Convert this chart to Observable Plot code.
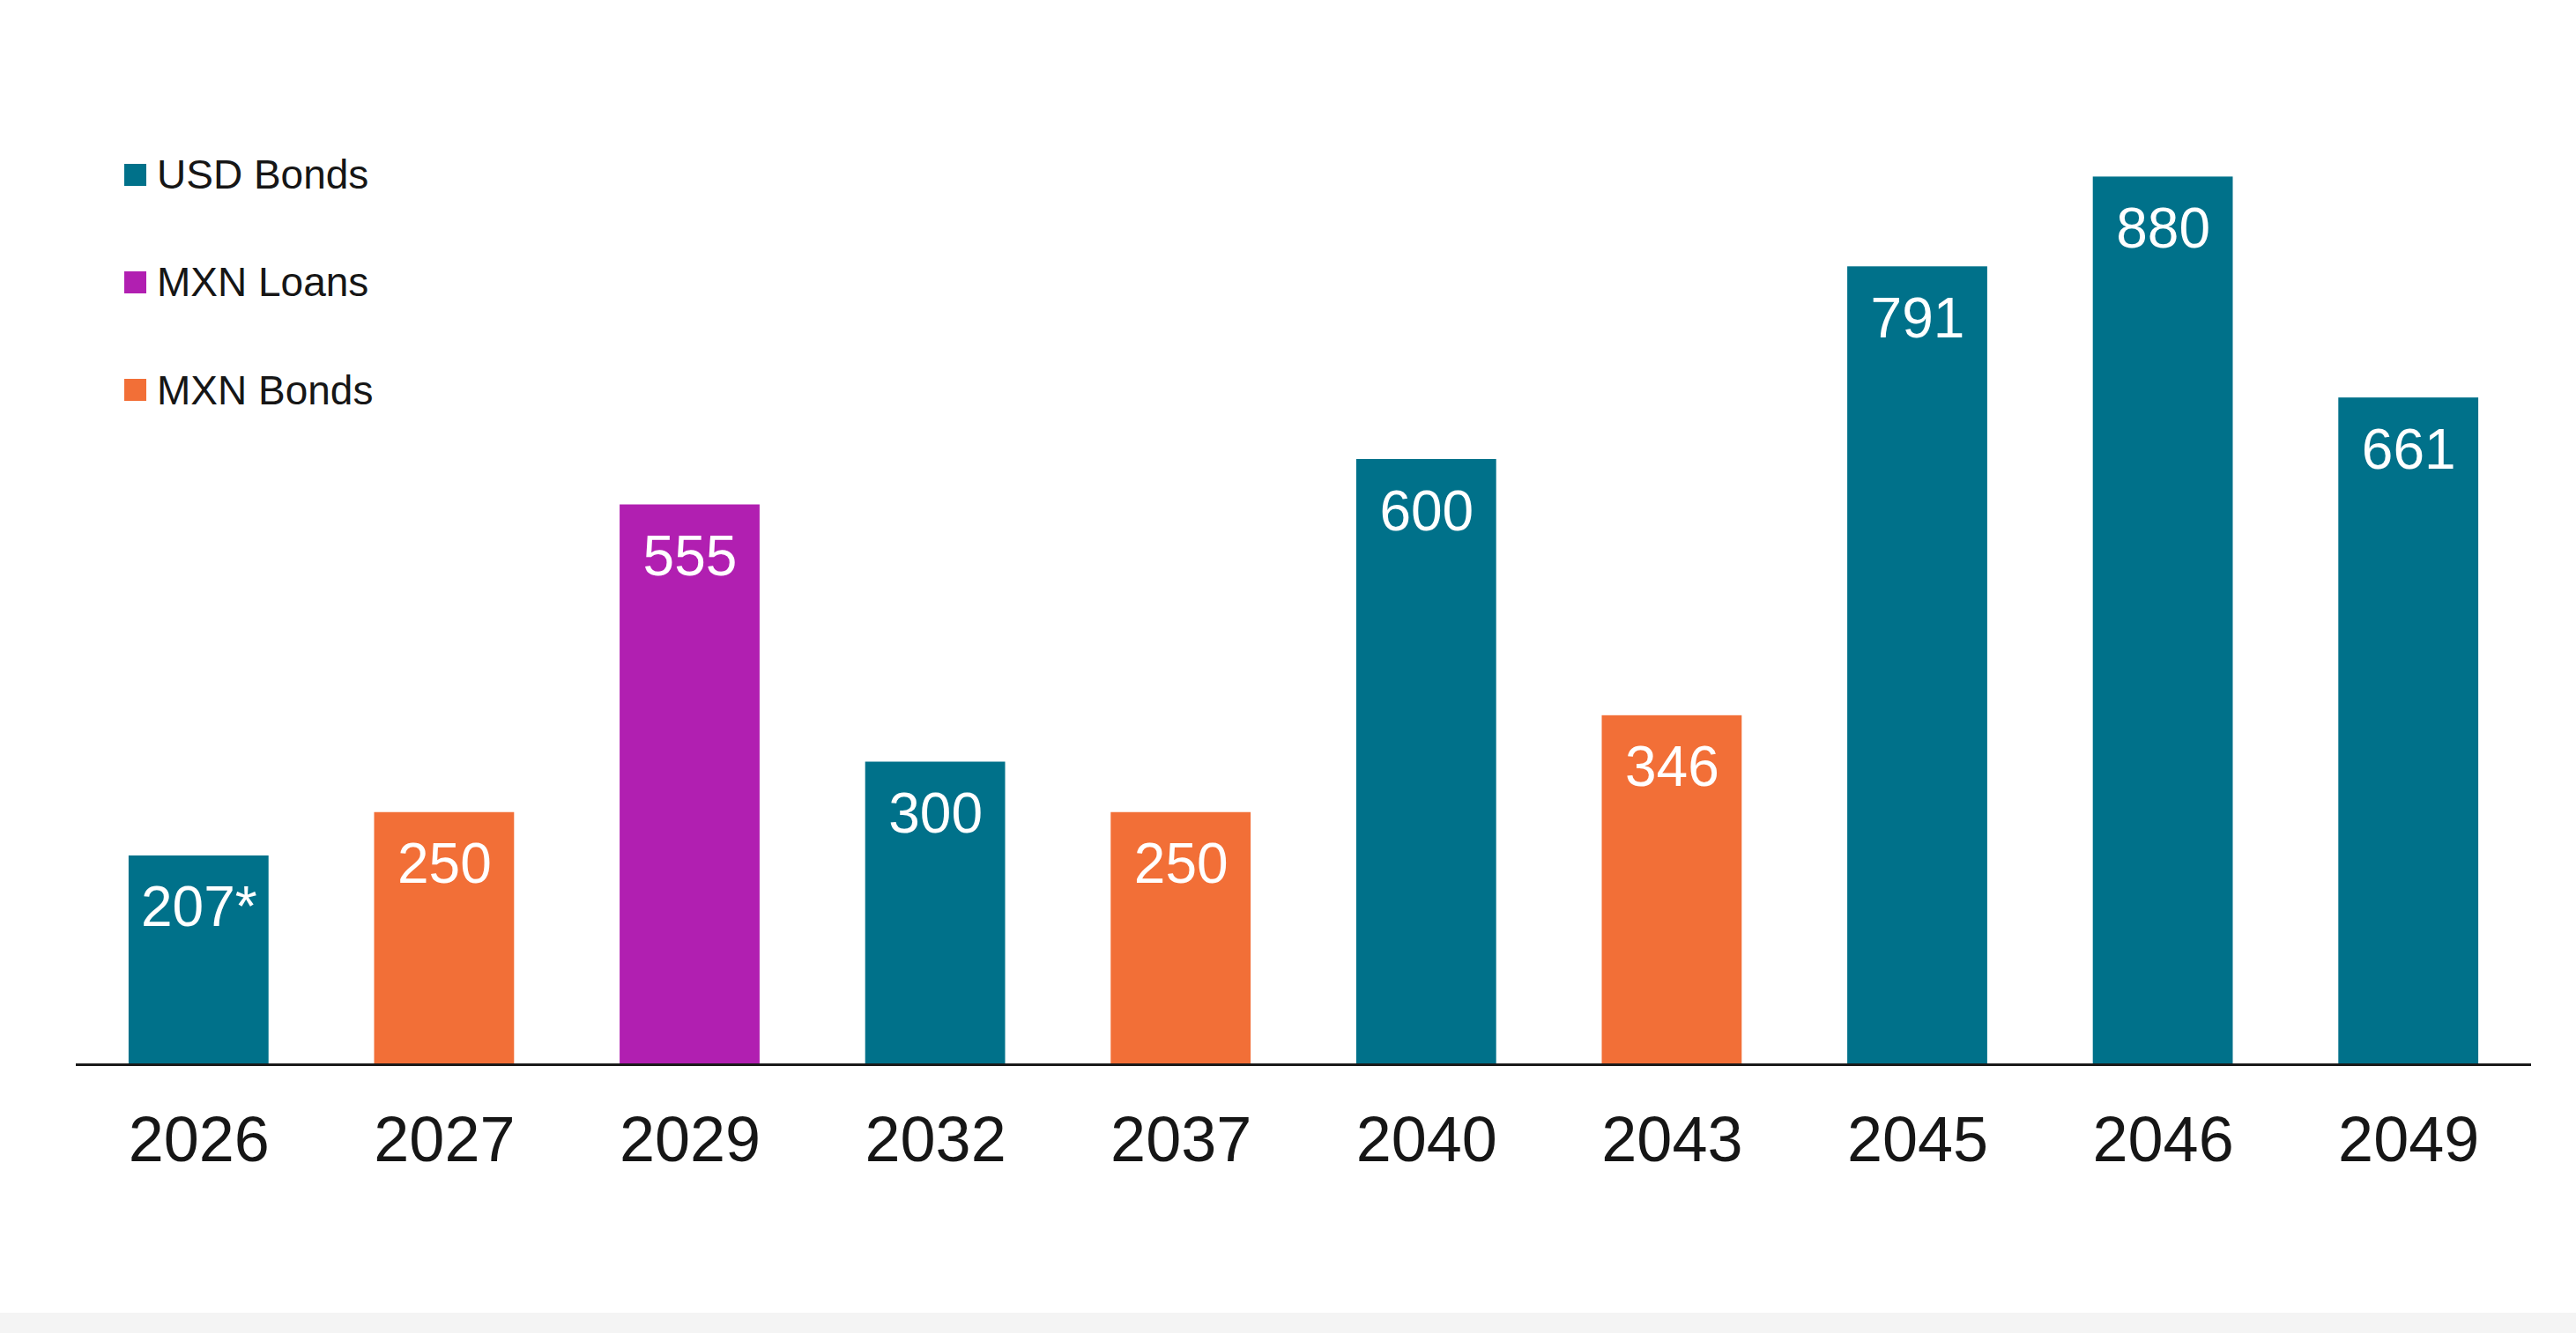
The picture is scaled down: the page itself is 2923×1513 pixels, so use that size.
<!DOCTYPE html>
<html><head><meta charset="utf-8">
<script src="https://cdn.jsdelivr.net/npm/d3@7"></script>
<script src="https://cdn.jsdelivr.net/npm/@observablehq/plot@0.6"></script>
<style>
html,body{margin:0;padding:0;background:#fff;}
#wrap{position:relative;width:2923px;height:1490px;}
#footer{width:2923px;height:23px;background:#f4f4f4;}
.legend{position:absolute;left:141px;top:173px;font-family:"Liberation Sans",Arial,sans-serif;font-size:46px;color:#161616;}
.item{display:flex;align-items:center;height:50px;margin-bottom:72.4px;}
.sw{width:25px;height:25px;margin-right:12px;flex:none;}
</style></head><body>
<div id="wrap"><div id="chart"></div><div class="legend" id="legend"></div></div>
<div id="footer"></div>
<script>
const years = ["2026","2027","2029","2032","2037","2040","2043","2045","2046","2049"];
const values = [207, 250, 555, 300, 250, 600, 346, 791, 880, 661];
const labels = ["207*","250","555","300","250","600","346","791","880","661"];
const types = ["USD Bonds","MXN Bonds","MXN Loans","USD Bonds","MXN Bonds","USD Bonds","MXN Bonds","USD Bonds","USD Bonds","USD Bonds"];
const legendCategories = ["USD Bonds","MXN Loans","MXN Bonds"];
const legendColors = ["#00718a","#b11fb1","#f26f37"];

const data = years.map((y, i) => ({year: y, value: values[i], label: labels[i], type: types[i]}));
const font = '"Liberation Sans", Arial, sans-serif';

const chart = Plot.plot({
  width: 2923, height: 1490,
  marginLeft: 86, marginRight: 51, marginTop: 63, marginBottom: 282,
  style: {fontFamily: font, background: "transparent"},
  x: {domain: years, paddingInner: 0.43, paddingOuter: 0.215, round: false, label: null},
  y: {domain: [0, 1000], axis: null},
  color: {domain: legendCategories, range: legendColors},
  marks: [
    Plot.barY(data, {x: "year", y: "value", fill: "type"}),
    Plot.ruleY([0], {stroke: "#1a1a1a", strokeWidth: 3}),
    Plot.text(data, {x: "year", y: "value", text: "label", fill: "white", fontSize: 64, lineAnchor: "bottom", dy: 80}),
    Plot.axisX({tickSize: 0, tickPadding: 58, fontSize: 72, fill: "#161616", label: null})
  ]
});
document.getElementById("chart").appendChild(chart);

const lg = document.getElementById("legend");
legendCategories.forEach((c, i) => {
  const it = document.createElement("div");
  it.className = "item";
  const sw = document.createElement("span");
  sw.className = "sw";
  sw.style.background = legendColors[i];
  const tx = document.createElement("span");
  tx.textContent = c;
  it.appendChild(sw); it.appendChild(tx);
  lg.appendChild(it);
});
</script>
</body></html>
